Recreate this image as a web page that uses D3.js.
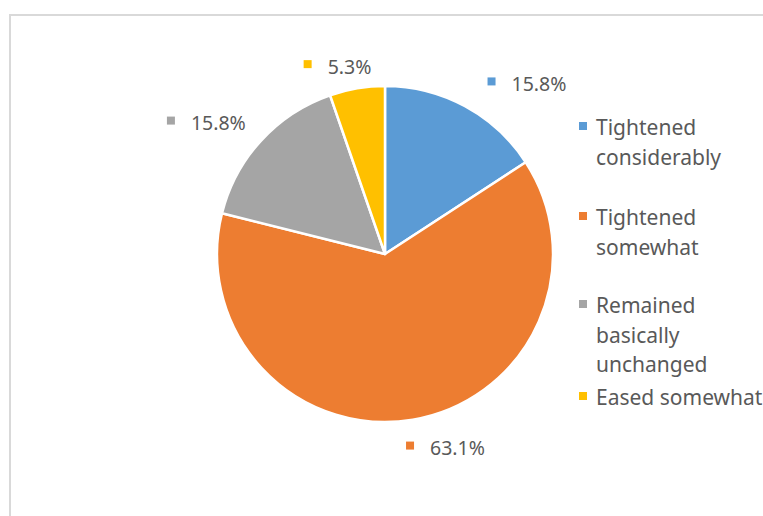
<!DOCTYPE html>
<html><head><meta charset="utf-8">
<script src="https://cdn.jsdelivr.net/npm/d3@7"></script>
<style>html,body{margin:0;padding:0;background:#fff;overflow:hidden}</style>
</head><body>
<svg id="c" width="763" height="516"></svg>
<script>
const categories = ["Tightened considerably", "Tightened somewhat", "Remained basically unchanged", "Eased somewhat"];
const legendLines = [["Tightened","considerably"],["Tightened","somewhat"],["Remained","basically","unchanged"],["Eased somewhat"]];
const values = [15.8, 63.1, 15.8, 5.3];
const labels = ["15.8%", "63.1%", "15.8%", "5.3%"];
const colors = ["#5B9BD5", "#ED7D31", "#A5A5A5", "#FFC000"];

// layout
const cx = 385, cy = 254, R = 168;
const labelR = 190;
const labelNudge = [[51.5,-3],[29,6.7],[-38.5,-2.6],[-16,0]];
const legendX = 579, legendBase = [135,225,313,405], lineH = 29.5;
const textColor = "#595959";

const svg = d3.select("#c");
svg.append("rect").attr("x",10).attr("y",15).attr("width",800).attr("height",600)
  .attr("fill","#fff").attr("stroke","#d9d9d9").attr("stroke-width",2);

const pie = d3.pie().sort(null).value(d=>d);
const arcs = pie(values);
const arc = d3.arc().innerRadius(0).outerRadius(R);
const g = svg.append("g").attr("transform",`translate(${cx},${cy})`);
g.selectAll("path").data(arcs).join("path")
  .attr("d",arc).attr("fill",(d,i)=>colors[i])
  .attr("stroke","#fff").attr("stroke-width",2.5).attr("stroke-linejoin","round");

const lab = d3.arc().innerRadius(labelR).outerRadius(labelR);
arcs.forEach((a,i)=>{
  const [px,py] = lab.centroid(a);
  const mx = cx+px+labelNudge[i][0], my = cy+py+labelNudge[i][1];
  const grp = svg.append("g");
  const t = grp.append("text").text(labels[i])
    .attr("font-family","'Noto Sans', sans-serif").attr("font-size",19.5)
    .attr("fill",textColor);
  const w = t.node().getComputedTextLength();
  const left = mx - (24+w)/2;
  const base = my + 7;
  t.attr("x",left+24).attr("y",base);
  grp.append("rect").attr("x",left).attr("y",base-13.5).attr("width",8).attr("height",8).attr("fill",colors[i]);
});

categories.forEach((c,i)=>{
  const b = legendBase[i];
  svg.append("rect").attr("x",legendX).attr("y",b-13).attr("width",8).attr("height",8).attr("fill",colors[i]);
  const t = svg.append("text").attr("font-family","'Noto Sans', sans-serif").attr("font-size",21).attr("fill",textColor);
  legendLines[i].forEach((ln,j)=>{
    t.append("tspan").attr("x",legendX+17).attr("y",b+j*lineH).text(ln);
  });
});
</script>
</body></html>
